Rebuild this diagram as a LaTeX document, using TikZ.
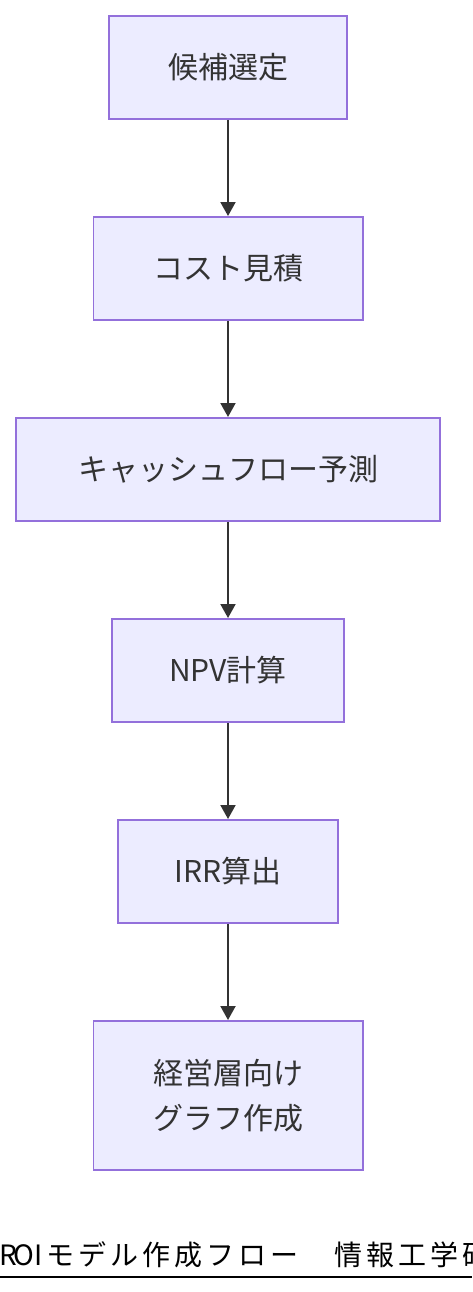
\documentclass[tikz,border=0pt]{standalone}
\usepackage{fontspec}
\setmainfont{Noto Sans CJK JP}
\usetikzlibrary{arrows.meta}
\definecolor{boxfill}{HTML}{ECECFF}
\definecolor{boxline}{HTML}{9370DB}
\definecolor{ink}{HTML}{333333}
\newcommand{\halfch}[1]{\makebox[15.5pt][c]{#1}}
\newcommand{\fullch}[1]{\makebox[32pt][l]{#1}}

\begin{document}
\begin{tikzpicture}[x=1pt, y=-1pt,
  stage/.style={draw=boxline, fill=boxfill, line width=1.8pt, text=ink,
    minimum height=103.2pt, inner sep=0pt, align=center,
    font=\fontsize{30}{45}\selectfont},
  flow/.style={draw=ink, line width=2pt, -{Triangle[length=14pt,width=15pt]}}]
  \clip (0,0) rectangle (472,1292);
  % stages of the flow
  \node [stage, minimum width=238.2pt] (pick) at (228,67.5) {候補選定};
  \node [stage, minimum width=269.2pt] (cost) at (228,268.5) {コスト見積};
  \node [stage, minimum width=424.2pt] (cash) at (228,469.5) {キャッシュフロー予測};
  \node [stage, minimum width=232.2pt] (npv) at (228,670.5) {NPV計算};
  \node [stage, minimum width=220.2pt] (irr) at (228,871.5) {IRR算出};
  \node [stage, minimum width=269.2pt, minimum height=149.2pt] (chart) at (228,1095.5) {経営層向け\\グラフ作成};
  % arrows
  \draw [flow] (pick.south) -- (cost.north);
  \draw [flow] (cost.south) -- (cash.north);
  \draw [flow] (cash.south) -- (npv.north);
  \draw [flow] (npv.south) -- (irr.north);
  \draw [flow] (irr.south) -- (chart.north);
  % caption
  \node [anchor=base west, inner sep=0pt, font=\fontsize{28}{30}\selectfont] (title) at (0,1265)
    {\halfch{R}\halfch{O}\halfch{I}\fullch{モ}\fullch{デ}\fullch{ル}\fullch{作}\fullch{成}\fullch{フ}\fullch{ロ}\fullch{ー}\fullch{　}\fullch{情}\fullch{報}\fullch{工}\fullch{学}\fullch{研}};
  \draw [line width=2pt] (0,1277) -- (472,1277);
\end{tikzpicture}
\end{document}
